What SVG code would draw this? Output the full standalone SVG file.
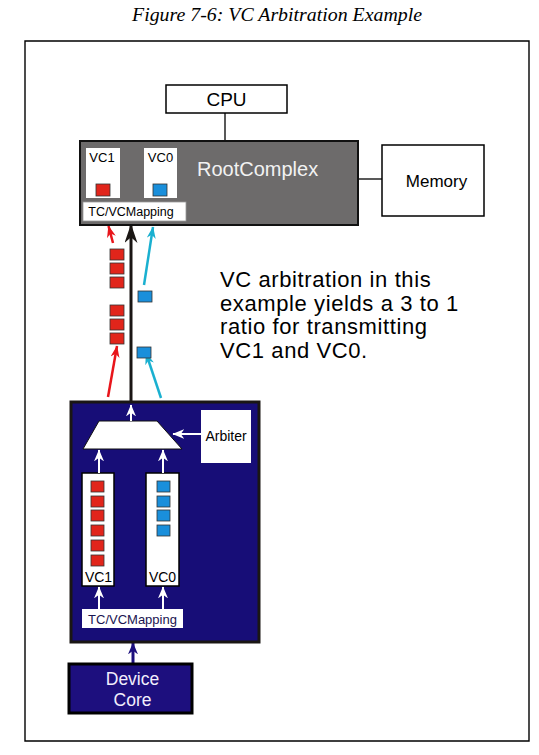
<svg xmlns="http://www.w3.org/2000/svg" width="539" height="755" viewBox="0 0 539 755">
<style>
.sans{font-family:"Liberation Sans",Arial,sans-serif}
.box{fill:#fff;stroke:#000;stroke-width:1.5}
.wh{stroke:#fff;stroke-width:2;fill:none}
.red{fill:#e1251b;stroke:#333;stroke-width:0.8}
.blu{fill:#1a8fdb;stroke:#333;stroke-width:0.8}
</style>
<defs>
<marker id="mw" viewBox="0 0 10 10" preserveAspectRatio="none" refX="9.5" refY="5" markerWidth="12" markerHeight="10" orient="auto" markerUnits="userSpaceOnUse"><path d="M0,0 L10,5 L0,10 L3,5 z" fill="#fff"/></marker>
<marker id="mr" viewBox="0 0 10 10" preserveAspectRatio="none" refX="9.5" refY="5" markerWidth="12" markerHeight="9" orient="auto" markerUnits="userSpaceOnUse"><path d="M0,0 L10,5 L0,10 L3,5 z" fill="#e8151b"/></marker>
<marker id="mc" viewBox="0 0 10 10" preserveAspectRatio="none" refX="9.5" refY="5" markerWidth="12" markerHeight="9" orient="auto" markerUnits="userSpaceOnUse"><path d="M0,0 L10,5 L0,10 L3,5 z" fill="#1ab0d0"/></marker>
<marker id="mk" viewBox="0 0 10 10" preserveAspectRatio="none" refX="9.5" refY="5" markerWidth="19" markerHeight="13" orient="auto" markerUnits="userSpaceOnUse"><path d="M0,0 L10,5 L0,10 L3,5 z" fill="#1a1614"/></marker>
<marker id="mn" viewBox="0 0 10 10" preserveAspectRatio="none" refX="9.5" refY="5" markerWidth="12" markerHeight="10" orient="auto" markerUnits="userSpaceOnUse"><path d="M0,0 L10,5 L0,10 L3,5 z" fill="#1d0f7e"/></marker>
</defs>
<rect width="539" height="755" fill="#fff"/>
<text x="277" y="21" text-anchor="middle" font-family="'Liberation Serif','Times New Roman',serif" font-style="italic" font-size="19" textLength="290" lengthAdjust="spacingAndGlyphs">Figure 7-6: VC Arbitration Example</text>
<path d="M25,741 V41 H529 V741 Z" fill="none" stroke="#000" stroke-width="1.4"/>

<g id="connectors">
<line x1="225" y1="113" x2="225" y2="141" stroke="#222" stroke-width="1.5"/>
<line x1="358" y1="179" x2="382" y2="179" stroke="#222" stroke-width="1.5"/>
<line x1="131" y1="402" x2="131" y2="225" stroke="#1a1614" stroke-width="3" marker-end="url(#mk)"/>
<line x1="113" y1="243" x2="108.5" y2="226" stroke="#e8151b" stroke-width="2.5" marker-end="url(#mr)"/>
<line x1="108" y1="397" x2="117" y2="346" stroke="#e8151b" stroke-width="2.5" marker-end="url(#mr)"/>
<line x1="144" y1="285" x2="153" y2="227" stroke="#1ab0d0" stroke-width="2.5" marker-end="url(#mc)"/>
<line x1="161" y1="398" x2="146" y2="353" stroke="#1ab0d0" stroke-width="2.5" marker-end="url(#mc)"/>
<line x1="133" y1="663" x2="133" y2="643" stroke="#1d0f7e" stroke-width="3" marker-end="url(#mn)"/>
</g>

<g id="cpu">
<rect class="box" x="166" y="85" width="121" height="28" stroke="#444"/>
<text class="sans" x="226.5" y="106" text-anchor="middle" font-size="19">CPU</text>
</g>

<g id="memory">
<rect class="box" x="382" y="145" width="102" height="71" stroke-width="2"/>
<text class="sans" x="436.5" y="187" text-anchor="middle" font-size="17">Memory</text>
</g>

<g id="rootcomplex">
<rect x="80" y="141" width="278" height="84" fill="#6d6b6b" stroke="#111" stroke-width="2"/>
<rect x="86" y="148" width="34" height="50" fill="#fff"/>
<rect x="144" y="148" width="33" height="50" fill="#fff"/>
<text class="sans" x="102" y="162" text-anchor="middle" font-size="13">VC1</text>
<text class="sans" x="160.5" y="162" text-anchor="middle" font-size="13">VC0</text>
<rect class="red" x="96" y="184" width="14" height="12"/>
<rect class="blu" x="153" y="184" width="14" height="12"/>
<rect x="83" y="202" width="103" height="19" fill="#fff" stroke="#999" stroke-width="0.8"/>
<text class="sans" x="131" y="216" text-anchor="middle" font-size="12.5">TC/VCMapping</text>
<text class="sans" x="197" y="176" font-size="20" fill="#f2f2f2">RootComplex</text>
</g>

<g id="packets">
<rect class="red" x="110" y="249" width="14" height="11"/>
<rect class="red" x="110" y="263" width="14" height="11"/>
<rect class="red" x="110" y="277" width="14" height="11"/>
<rect class="red" x="110" y="305" width="14" height="11"/>
<rect class="red" x="110" y="319" width="14" height="11"/>
<rect class="red" x="110" y="333" width="14" height="11"/>
<rect class="blu" x="138" y="291" width="14" height="11"/>
<rect class="blu" x="137" y="347" width="14" height="11"/>
</g>

<g id="note">
<text class="sans" font-size="22" letter-spacing="0.6" fill="#000">
<tspan x="220" y="287">VC arbitration in this</tspan>
<tspan x="220" y="310.5">example yields a 3 to 1</tspan>
<tspan x="220" y="334">ratio for transmitting</tspan>
<tspan x="220" y="357.5">VC1 and VC0.</tspan>
</text>
</g>

<g id="device">
<rect x="71" y="402" width="188" height="240" fill="#170d77" stroke="#1a1614" stroke-width="3"/>
<polygon points="83,449 182,449 157,421 99,421" fill="#fff" stroke="#111" stroke-width="1"/>
<line class="wh" x1="131" y1="421" x2="131" y2="405" marker-end="url(#mw)"/>
<rect x="201" y="410" width="50" height="53" fill="#fff"/>
<text class="sans" x="226" y="441" text-anchor="middle" font-size="14">Arbiter</text>
<line class="wh" x1="201" y1="434" x2="173" y2="434" marker-end="url(#mw)"/>
<rect x="82" y="473" width="32" height="113" fill="#fff" stroke="#000" stroke-width="1.5"/>
<rect x="146" y="473" width="33" height="113" fill="#fff" stroke="#000" stroke-width="1.5"/>
<rect class="red" x="91" y="481" width="13" height="11"/>
<rect class="red" x="91" y="496" width="13" height="11"/>
<rect class="red" x="91" y="510" width="13" height="11"/>
<rect class="red" x="91" y="525" width="13" height="11"/>
<rect class="red" x="91" y="540" width="13" height="11"/>
<rect class="red" x="91" y="555" width="13" height="11"/>
<rect class="blu" x="157" y="481" width="13" height="11"/>
<rect class="blu" x="157" y="496" width="13" height="11"/>
<rect class="blu" x="157" y="510" width="13" height="11"/>
<rect class="blu" x="157" y="525" width="13" height="11"/>
<text class="sans" x="98.5" y="582" text-anchor="middle" font-size="14">VC1</text>
<text class="sans" x="162.5" y="582" text-anchor="middle" font-size="14">VC0</text>
<line class="wh" x1="99" y1="473" x2="99" y2="450" marker-end="url(#mw)"/>
<line class="wh" x1="163" y1="473" x2="163" y2="450" marker-end="url(#mw)"/>
<line class="wh" x1="99" y1="609" x2="99" y2="587" marker-end="url(#mw)"/>
<line class="wh" x1="163" y1="609" x2="163" y2="587" marker-end="url(#mw)"/>
<rect x="82" y="609" width="101" height="19" fill="#fff"/>
<text class="sans" x="132.5" y="623.5" text-anchor="middle" font-size="13" fill="#1a1450">TC/VCMapping</text>
</g>

<g id="devicecore">
<rect x="69" y="664" width="123" height="49" fill="#1d0f7e" stroke="#000" stroke-width="3"/>
<text class="sans" x="132.5" y="685" text-anchor="middle" font-size="17.5" fill="#f2eefc">Device</text>
<text class="sans" x="132.5" y="706" text-anchor="middle" font-size="17.5" fill="#f2eefc">Core</text>
</g>
</svg>
